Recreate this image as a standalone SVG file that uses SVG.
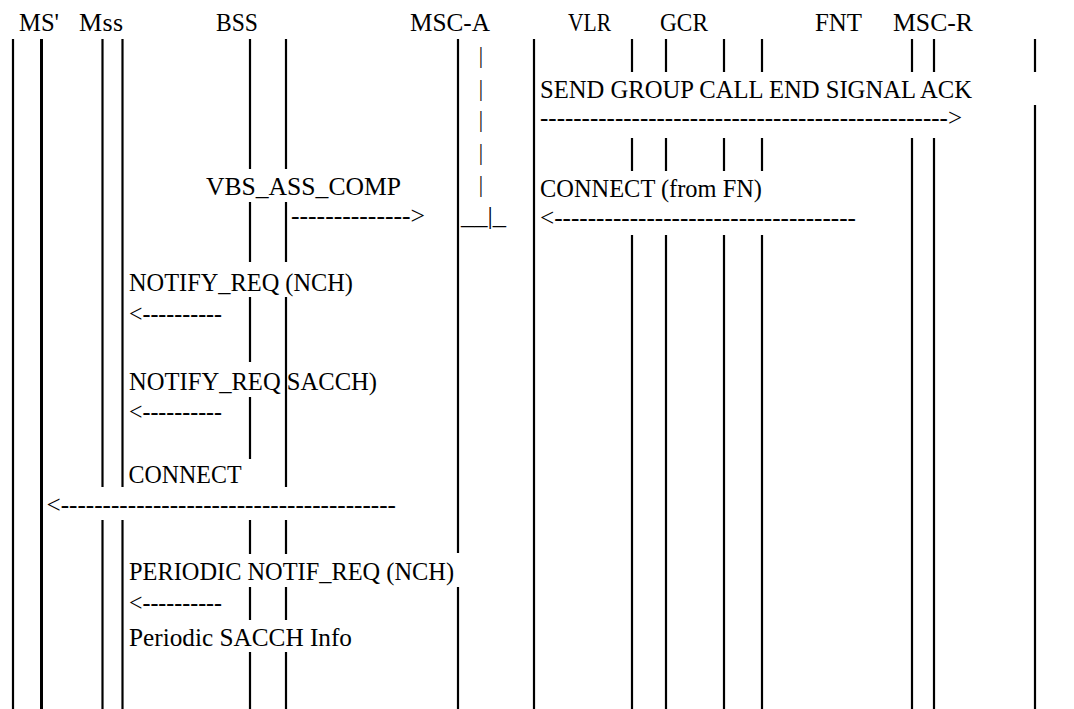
<svg xmlns="http://www.w3.org/2000/svg" width="1074" height="709" viewBox="0 0 1074 709">
<style>
  .ll { stroke: #000; stroke-width: 2.2; fill: none; }
  .thick { stroke-width: 3; }
  .hd { font-size: 26px; fill: #000; }
  .tx { font-size: 25px; fill: #000; }
  .pipe { font-size: 24px; fill: #222; text-anchor: middle; }
</style>
<rect width="1074" height="709" fill="#fff"/>
<g font-family="'Liberation Serif', 'Times New Roman', Times, serif">
<g id="node-ms-prime">
  <text class="hd" x="19" y="31" textLength="40" lengthAdjust="spacingAndGlyphs">MS'</text>
  <line class="ll" x1="13" y1="39" x2="13" y2="709"/>
  <line class="ll thick" x1="41.5" y1="39" x2="41.5" y2="709"/>
</g>

<g id="node-mss">
  <text class="hd" x="79" y="31" textLength="44" lengthAdjust="spacing">Mss</text>
  <line class="ll" x1="102.5" y1="39" x2="102.5" y2="487"/>
  <line class="ll" x1="102.5" y1="520" x2="102.5" y2="709"/>
  <line class="ll" x1="122.5" y1="39" x2="122.5" y2="487"/>
  <line class="ll" x1="122.5" y1="520" x2="122.5" y2="709"/>
</g>

<g id="node-bss">
  <text class="hd" x="216" y="31" textLength="42" lengthAdjust="spacingAndGlyphs">BSS</text>
  <line class="ll" x1="250" y1="39" x2="250" y2="169"/>
  <line class="ll" x1="250" y1="202" x2="250" y2="262"/>
  <line class="ll" x1="250" y1="297" x2="250" y2="362"/>
  <line class="ll" x1="250" y1="397" x2="250" y2="459"/>
  <line class="ll" x1="250" y1="520" x2="250" y2="554"/>
  <line class="ll" x1="250" y1="587" x2="250" y2="620"/>
  <line class="ll" x1="250" y1="652" x2="250" y2="709"/>
  <line class="ll" x1="286" y1="39" x2="286" y2="169"/>
  <line class="ll" x1="286" y1="202" x2="286" y2="262"/>
  <line class="ll" x1="286" y1="297" x2="286" y2="487"/>
  <line class="ll" x1="286" y1="520" x2="286" y2="554"/>
  <line class="ll" x1="286" y1="587" x2="286" y2="620"/>
  <line class="ll" x1="286" y1="652" x2="286" y2="709"/>
</g>

<g id="node-msc-a">
  <text class="hd" x="410" y="31" textLength="80" lengthAdjust="spacingAndGlyphs">MSC-A</text>
  <line class="ll" x1="458" y1="39" x2="458" y2="553"/>
  <line class="ll" x1="458" y1="587" x2="458" y2="709"/>
  <text class="pipe" x="481" y="63">|</text>
  <text class="pipe" x="481" y="95.5">|</text>
  <text class="pipe" x="481" y="127">|</text>
  <text class="pipe" x="481" y="159.5">|</text>
  <text class="pipe" x="481" y="191.5">|</text>
  <text class="tx" x="461" y="224" textLength="45" lengthAdjust="spacingAndGlyphs">__|_</text>
  <line class="ll" x1="534" y1="39" x2="534" y2="709"/>
</g>

<g id="node-vlr">
  <text class="hd" x="568" y="31" textLength="43" lengthAdjust="spacingAndGlyphs">VLR</text>
  <line class="ll" x1="632" y1="39" x2="632" y2="72"/>
  <line class="ll" x1="632" y1="138" x2="632" y2="171"/>
  <line class="ll" x1="632" y1="235" x2="632" y2="709"/>
  <line class="ll" x1="666" y1="39" x2="666" y2="72"/>
  <line class="ll" x1="666" y1="138" x2="666" y2="171"/>
  <line class="ll" x1="666" y1="235" x2="666" y2="709"/>
</g>

<g id="node-gcr">
  <text class="hd" x="660" y="31" textLength="48" lengthAdjust="spacingAndGlyphs">GCR</text>
  <line class="ll" x1="724" y1="39" x2="724" y2="72"/>
  <line class="ll" x1="724" y1="138" x2="724" y2="171"/>
  <line class="ll" x1="724" y1="235" x2="724" y2="709"/>
  <line class="ll" x1="762" y1="39" x2="762" y2="72"/>
  <line class="ll" x1="762" y1="138" x2="762" y2="171"/>
  <line class="ll" x1="762" y1="235" x2="762" y2="709"/>
</g>

<g id="node-fnt">
  <text class="hd" x="815" y="31" textLength="47" lengthAdjust="spacingAndGlyphs">FNT</text>
</g>

<g id="node-msc-r">
  <text class="hd" x="893" y="31" textLength="80" lengthAdjust="spacingAndGlyphs">MSC-R</text>
  <line class="ll" x1="912" y1="39" x2="912" y2="72"/>
  <line class="ll" x1="912" y1="138" x2="912" y2="709"/>
  <line class="ll" x1="934" y1="39" x2="934" y2="72"/>
  <line class="ll" x1="934" y1="138" x2="934" y2="709"/>
  <line class="ll" x1="1035" y1="39" x2="1035" y2="72"/>
  <line class="ll" x1="1035" y1="105" x2="1035" y2="709"/>
</g>

<g id="connectors">
  <text class="tx" x="540" y="98" textLength="432" lengthAdjust="spacingAndGlyphs">SEND GROUP CALL END SIGNAL ACK</text>
  <text class="tx" x="540" y="126" textLength="422" lengthAdjust="spacingAndGlyphs">-------------------------------------------------&gt;</text>

  <text class="tx" x="206" y="195" textLength="195" lengthAdjust="spacingAndGlyphs">VBS_ASS_COMP</text>
  <text class="tx" x="291" y="224" textLength="134" lengthAdjust="spacingAndGlyphs">--------------&gt;</text>

  <text class="tx" x="540" y="197" textLength="222" lengthAdjust="spacingAndGlyphs">CONNECT (from FN)</text>
  <text class="tx" x="540" y="226" textLength="316" lengthAdjust="spacingAndGlyphs">&lt;------------------------------------</text>

  <text class="tx" x="129" y="291" textLength="224" lengthAdjust="spacingAndGlyphs">NOTIFY_REQ (NCH)</text>
  <text class="tx" x="129" y="322" textLength="93" lengthAdjust="spacingAndGlyphs">&lt;----------</text>

  <text class="tx" x="129" y="390" textLength="248" lengthAdjust="spacingAndGlyphs">NOTIFY_REQ SACCH)</text>
  <text class="tx" x="129" y="420" textLength="93" lengthAdjust="spacingAndGlyphs">&lt;----------</text>

  <text class="tx" x="128.5" y="483" textLength="113" lengthAdjust="spacingAndGlyphs">CONNECT</text>
  <text class="tx" x="46.5" y="513" textLength="349.5" lengthAdjust="spacingAndGlyphs">&lt;----------------------------------------</text>

  <text class="tx" x="129" y="580" textLength="325" lengthAdjust="spacingAndGlyphs">PERIODIC NOTIF_REQ (NCH)</text>
  <text class="tx" x="129" y="611" textLength="93" lengthAdjust="spacingAndGlyphs">&lt;----------</text>
  <text class="tx" x="129" y="646" textLength="223" lengthAdjust="spacingAndGlyphs">Periodic SACCH Info</text>
</g>
</g>
</svg>
